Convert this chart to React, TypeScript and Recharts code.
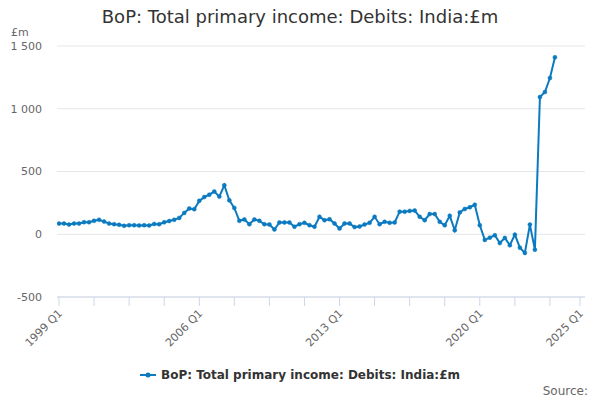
import React from 'react';
import { LineChart, Line, XAxis, YAxis, CartesianGrid } from 'recharts';

// Quarterly values, 1999 Q1 .. 2023 Q4 (£m)
const debitValues = [
  85, 85, 77, 85, 85, 96, 96, 107, 115, 101,
  85, 80, 75, 67, 72, 72, 70, 72, 70, 82,
  80, 95, 105, 115, 130, 170, 205, 200, 266, 296,
  315, 340, 300, 390, 270, 210, 107, 118, 80, 118,
  107, 80, 78, 38, 94, 94, 94, 60, 80, 91,
  72, 60, 139, 112, 120, 86, 46, 86, 86, 57,
  62, 78, 91, 139, 80, 99, 91, 94, 180, 180,
  186, 189, 139, 112, 161, 161, 99, 72, 147, 32,
  174, 201, 215, 235, 72, -45, -27, -8, -70, -29,
  -88, -3, -107, -149, 77, -123, 1093, 1133, 1245, 1410,
];

const startYear = 1999;
const xTicks = [0, 7, 14, 21, 28, 35, 42, 49, 56, 63, 70, 77, 84, 91, 98, 104];
const xLabelledTicks = [0, 28, 56, 84, 104];
const yTicks = [-500, 0, 500, 1000, 1500];

const seriesName = 'BoP: Total primary income: Debits: India:£m';
const lineColor = '#0b7ac0';
const font = '"DejaVu Sans", sans-serif';

const quarterLabel = (i: number) =>
  `${startYear + Math.floor(i / 4)} Q${(i % 4) + 1}`;

const data = debitValues.map((v, i) => ({ i, quarter: quarterLabel(i), v }));

const formatY = (v: number) => {
  const s = Math.abs(v).toString().replace(/\B(?=(\d{3})+(?!\d))/g, ' ');
  return (v < 0 ? '-' : '') + s;
};

const XTick = (props: any) => {
  const { x, y, payload } = props;
  if (!xLabelledTicks.includes(payload.value)) return null;
  return (
    <text
      x={x + 4}
      y={y + 6}
      transform={`rotate(-45 ${x + 4} ${y + 6})`}
      textAnchor="end"
      fontSize={11}
      fill="#666"
      fontFamily={font}
    >
      {quarterLabel(payload.value)}
    </text>
  );
};

export default function App() {
  return (
    <div style={{ position: 'absolute', left: 0, top: 0, width: 600, height: 400, background: '#fff', fontFamily: font }}>
      <div style={{ position: 'absolute', top: 6, left: 0, width: 600, textAlign: 'center', fontSize: 18, color: '#333' }}>
        {seriesName}
      </div>
      <div style={{ position: 'absolute', top: 26, left: 11, fontSize: 11, color: '#666' }}>£m</div>
      <LineChart
        width={600}
        height={400}
        data={data}
        margin={{ top: 46, right: 15, bottom: 0, left: 0 }}
      >
        <CartesianGrid vertical={false} stroke="#e6e6e6" />
        <XAxis
          dataKey="i"
          type="number"
          domain={[-0.4, 105]}
          ticks={xTicks}
          interval={0}
          height={103}
          axisLine={{ stroke: '#ccd6eb' }}
          tickLine={{ stroke: '#ccd6eb' }}
          tickSize={9}
          tick={<XTick />}
          allowDataOverflow
        />
        <YAxis
          type="number"
          domain={[-500, 1500]}
          ticks={yTicks}
          width={57}
          axisLine={false}
          tickLine={false}
          tickMargin={9}
          tickFormatter={formatY}
          tick={{ fontSize: 11, fill: '#666', fontFamily: font }}
          allowDataOverflow
        />
        <Line
          dataKey="v"
          stroke={lineColor}
          strokeWidth={2}
          dot={{ r: 2, fill: lineColor, stroke: lineColor, strokeWidth: 0.5 }}
          isAnimationActive={false}
        />
      </LineChart>
      <div style={{ position: 'absolute', top: 368, left: 0, width: 600, display: 'flex', justifyContent: 'center', alignItems: 'center' }}>
        <svg width={17} height={10} style={{ marginRight: 4 }}>
          <line x1={0} y1={5} x2={16} y2={5} stroke={lineColor} strokeWidth={2} />
          <circle cx={8} cy={5} r={2.5} fill={lineColor} />
        </svg>
        <span style={{ fontSize: 12, fontWeight: 'bold', color: '#333' }}>{seriesName}</span>
      </div>
      <div style={{ position: 'absolute', top: 384, right: 12, fontSize: 12, color: '#666' }}>Source:</div>
    </div>
  );
}
